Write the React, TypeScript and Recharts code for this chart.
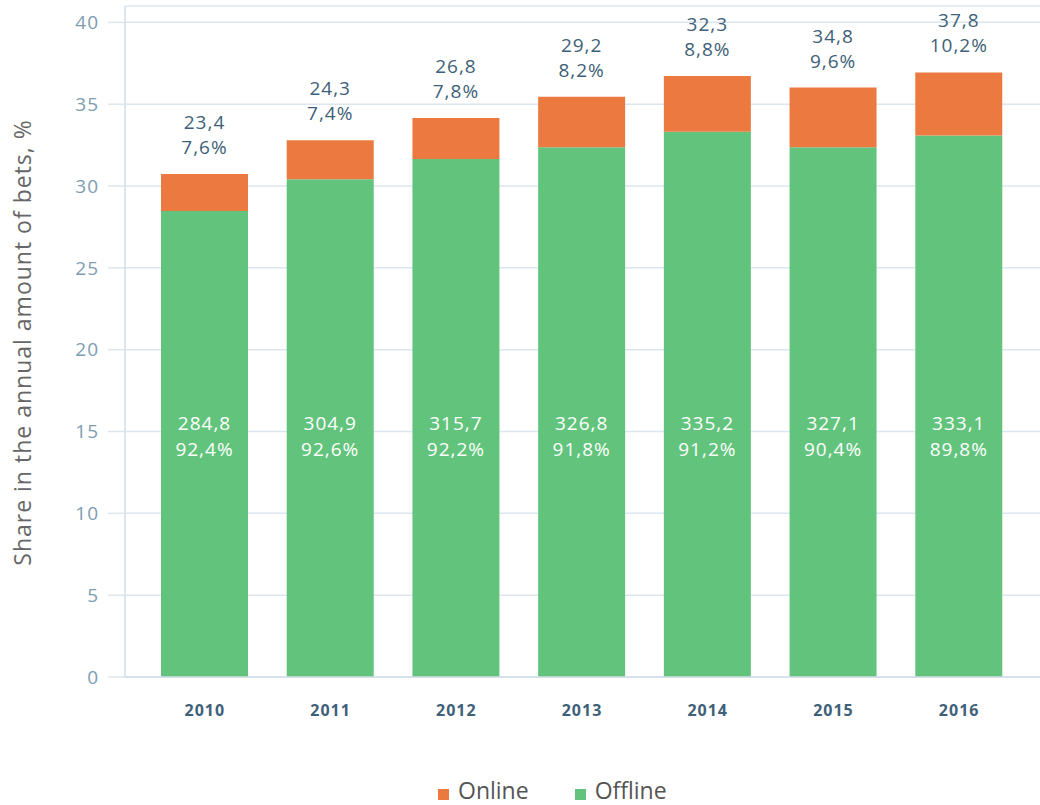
import React from 'react';
import { BarChart, Bar, XAxis, YAxis, CartesianGrid, Legend, LabelList } from 'recharts';

const years = ['2010', '2011', '2012', '2013', '2014', '2015', '2016'];
const offlineShare = [28.48, 30.41, 31.65, 32.37, 33.32, 32.37, 33.09];
const onlineShare = [2.26, 2.38, 2.51, 3.08, 3.41, 3.65, 3.85];
const offlineAmount = ['284,8', '304,9', '315,7', '326,8', '335,2', '327,1', '333,1'];
const offlinePct = ['92,4%', '92,6%', '92,2%', '91,8%', '91,2%', '90,4%', '89,8%'];
const onlineAmount = ['23,4', '24,3', '26,8', '29,2', '32,3', '34,8', '37,8'];
const onlinePct = ['7,6%', '7,4%', '7,8%', '8,2%', '8,8%', '9,6%', '10,2%'];
const yTicks = [0, 5, 10, 15, 20, 25, 30, 35, 40];

const data = years.map((year, i) => ({
  year,
  offline: offlineShare[i],
  online: onlineShare[i],
}));

const FONT = '"Open Sans", "Noto Sans", sans-serif';
const GREEN = '#62C47C';
const ORANGE = '#EC7A40';
const GRID = '#DCE6EE';
const AXIS = '#D2DEE8';
const LABEL_DARK = '#3E5F78';

const renderTop = (props: any) => {
  const x = Number(props.x);
  const y = Number(props.y);
  const w = Number(props.width);
  const i = props.index;
  const cx = x + w / 2;
  const common = {
    x: cx,
    textAnchor: 'middle' as const,
    dominantBaseline: 'central' as const,
    fill: LABEL_DARK,
    fontSize: 19,
    letterSpacing: 1,
    fontFamily: FONT,
  };
  return (
    <g>
      <text {...common} y={y - 52}>{onlineAmount[i]}</text>
      <text {...common} y={y - 27}>{onlinePct[i]}</text>
    </g>
  );
};

const renderInside = (props: any) => {
  const x = Number(props.x);
  const y = Number(props.y);
  const w = Number(props.width);
  const h = Number(props.height);
  const i = props.index;
  const cx = x + w / 2;
  const bottom = y + h;
  const common = {
    x: cx,
    textAnchor: 'middle' as const,
    dominantBaseline: 'central' as const,
    fill: '#FFFFFF',
    fontSize: 19,
    letterSpacing: 1,
    fontFamily: FONT,
  };
  return (
    <g>
      <text {...common} y={bottom - 254}>{offlineAmount[i]}</text>
      <text {...common} y={bottom - 228}>{offlinePct[i]}</text>
    </g>
  );
};

const renderYLabel = (props: any) => {
  const vb = props.viewBox || {};
  const cy = Number(vb.y) + Number(vb.height) / 2 + 1;
  const cx = 22;
  return (
    <text
      x={cx}
      y={cy}
      transform={`rotate(-90, ${cx}, ${cy})`}
      textAnchor="middle"
      dominantBaseline="central"
      fill="#666666"
      fontSize={23}
      letterSpacing={1}
      fontFamily={FONT}
    >
      Share in the annual amount of bets, %
    </text>
  );
};

const legendItems = [
  { name: 'Online', color: ORANGE },
  { name: 'Offline', color: GREEN },
];

const renderLegend = () => (
  <div style={{ position: 'relative', width: 1040, height: 24, fontFamily: FONT }}>
    <div style={{ position: 'absolute', left: 438, top: 0, display: 'flex', alignItems: 'flex-start' }}>
      {legendItems.map((it, k) => (
        <div key={it.name} style={{ display: 'flex', alignItems: 'flex-start', marginLeft: k === 0 ? 0 : 46 }}>
          <span style={{ display: 'inline-block', width: 11, height: 11, background: it.color, marginTop: 10, marginRight: 9 }} />
          <span style={{ fontSize: 23, color: '#555555', lineHeight: '23px' }}>{it.name}</span>
        </div>
      ))}
    </div>
  </div>
);

export default function App() {
  return (
    <div style={{ position: 'absolute', left: 0, top: 0, width: 1040, height: 805, background: '#FFFFFF' }}>
      <BarChart
        width={1040}
        height={805}
        data={data}
        margin={{ top: 6, right: 0, left: 0, bottom: 68 }}
      >
        <CartesianGrid vertical={false} stroke={GRID} strokeWidth={1.5} />
        <XAxis
          dataKey="year"
          height={60}
          padding={{ left: 17, right: 18 }}
          axisLine={{ stroke: AXIS, strokeWidth: 1.5 }}
          tickLine={false}
          tickSize={0}
          tickMargin={28}
          tick={{ fill: '#3E6079', fontSize: 16, fontWeight: 700, fontFamily: FONT, letterSpacing: 1 }}
        />
        <YAxis
          width={125}
          domain={[0, 41]}
          ticks={yTicks}
          interval={0}
          allowDataOverflow
          axisLine={{ stroke: AXIS, strokeWidth: 1.5 }}
          tickLine={{ stroke: GRID, strokeWidth: 1.5 }}
          tickSize={17}
          tickMargin={9}
          tick={{ fill: '#7D9DB2', fontSize: 19, fontFamily: FONT, letterSpacing: 1 }}
          label={{ content: renderYLabel }}
        />
        <Legend
          verticalAlign="middle"
          layout="horizontal"
          content={renderLegend}
          wrapperStyle={{ position: 'absolute', left: 0, top: 779, width: 1040, height: 24 }}
        />
        <Bar dataKey="offline" name="Offline" stackId="a" fill={GREEN} barSize={87} isAnimationActive={false}>
          <LabelList dataKey="offline" content={renderInside} />
        </Bar>
        <Bar dataKey="online" name="Online" stackId="a" fill={ORANGE} barSize={87} isAnimationActive={false}>
          <LabelList dataKey="online" content={renderTop} />
        </Bar>
      </BarChart>
    </div>
  );
}
